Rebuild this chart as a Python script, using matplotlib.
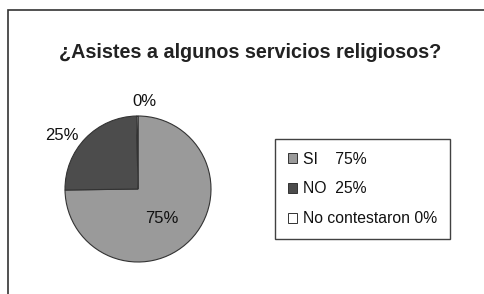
import numpy as np
import matplotlib
matplotlib.use('Agg')
from matplotlib import pyplot as plt
from matplotlib.patches import Rectangle, Patch

plt.rcParams['font.family'] = ['Liberation Sans', 'DejaVu Sans']

# data
title = '¿Asistes a algunos servicios religiosos?'
categories = ['SI', 'NO', 'No contestaron']
pct_labels = ['75%', '25%', '0%']
values = [75, 25, 0.3]   # the 0% slice shows as a thin sliver
colors = ['#9a9a9a', '#4c4c4c', '#ffffff']
legend_text = ['SI    75%', 'NO  25%', 'No contestaron 0%']

W, H = 484, 294
fig = plt.figure(figsize=(W/100, H/100), dpi=100)

# outer frame (cut off on the right and bottom)
fig.patches.append(Rectangle((8/W, -0.1), 1.2, 1 - 10/H + 0.1, transform=fig.transFigure,
                             fill=False, edgecolor='#333333', lw=1.2))

fig.text(250/W, 1 - 52/H, title, ha='center', va='center',
         fontsize=14.2, fontweight='bold', color='#222222')

# pie axes: center (138,189) px, radius 73 px
cx, cy, r = 138, 189, 73
ax = fig.add_axes([(cx - r)/W, (H - cy - r)/H, 2*r/W, 2*r/H])
wedges, _ = ax.pie(values, colors=colors, startangle=90, counterclock=False,
                   wedgeprops=dict(edgecolor='#333333', linewidth=0.8))
ax.set_xlim(-1, 1)
ax.set_ylim(-1, 1)
ax.set_aspect('auto')
ax.axis('off')

# label placement per slice (75% sits inside, the others outside)
dists = [0.52, 1.28, 1.2]
angles = [-52, 145, 86]
for lab, d, a in zip(pct_labels, dists, angles):
    ang = np.deg2rad(a)
    ax.text(d*np.cos(ang), d*np.sin(ang), lab, ha='center', va='center',
            fontsize=12, color='#111111')

handles = [Patch(facecolor=c, edgecolor='#333333', linewidth=0.7) for c in colors]
leg = fig.legend(handles, legend_text, loc='upper left',
                 bbox_to_anchor=(275/W, 1 - 139/H), fontsize=11.3,
                 frameon=True, fancybox=False, edgecolor='#111111',
                 handlelength=0.6, handleheight=0.6, handletextpad=0.4,
                 labelspacing=0.95, borderpad=0.8, borderaxespad=0)
leg.get_frame().set_linewidth(1.0)
for t in leg.get_texts():
    t.set_color('#111111')

fig.savefig('out.png', dpi=100, facecolor='white')
